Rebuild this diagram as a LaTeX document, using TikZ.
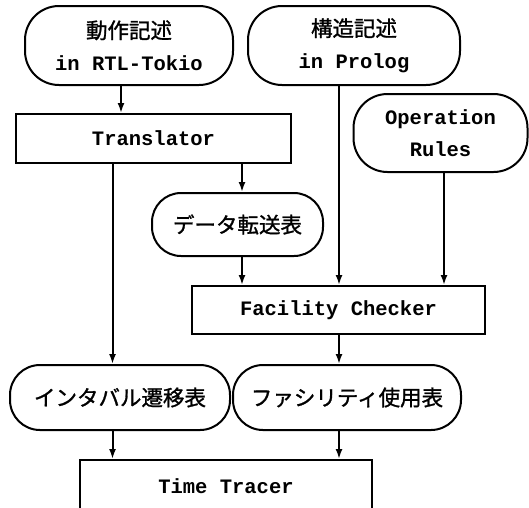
\documentclass[tikz,border=0pt]{standalone}
\usepackage{fontspec}
\newfontfamily\cjk[FakeBold=1.2]{Noto Sans CJK JP}
\setmonofont{Liberation Mono}
\usetikzlibrary{arrows.meta}
\tikzset{
  base/.style={draw, line width=2pt, inner sep=0pt, align=center,
    font=\fontsize{20.5}{32}\selectfont\ttfamily\bfseries},
  boxnode/.style={base, rectangle},
  pill/.style={base, rectangle, rounded corners=34pt},
  arr/.style={line width=2pt, -{Latex[length=10pt,width=7pt]}},
}
\newcommand{\cj}[1]{{\cjk\mdseries\fontsize{21.5}{32}\selectfont #1}}
\begin{document}
\begin{tikzpicture}[x=1pt,y=-1pt]
\useasboundingbox (0,0) rectangle (529,507);
\clip (0,0) rectangle (529,507);
% nodes
\node[pill, minimum width=208pt, minimum height=79pt] (n1) at (129,45.5) {\cj{動作記述}\\in RTL-Tokio};
\node[pill, minimum width=212pt, minimum height=79pt] (n2) at (354,45.5) {\cj{構造記述}\\in Prolog};
\node[pill, minimum width=174pt, minimum height=78pt] (op) at (440.5,133) {Operation\\Rules};
\node[boxnode, minimum width=275pt, minimum height=49pt] (tr) at (153.5,138.5) {Translator};
\node[pill, rounded corners=29pt, minimum width=171pt, minimum height=63pt] (dt) at (237.5,224.5) {\cj{データ転送表}};
\node[boxnode, minimum width=293pt, minimum height=48pt] (fc) at (338.5,310) {Facility Checker};
\node[pill, rounded corners=30pt, minimum width=220pt, minimum height=65pt] (iv) at (120,397.5) {\cj{インタバル遷移表}};
\node[pill, rounded corners=30pt, minimum width=228pt, minimum height=65pt] (fa) at (347,397.5) {\cj{ファシリティ使用表}};
\node[boxnode, minimum width=292pt, minimum height=52pt] (tt) at (226,486) {Time Tracer};
% columns
\coordinate (xa) at (121,0);
\coordinate (xb) at (112.5,0);
\coordinate (xc) at (242,0);
\coordinate (xd) at (339,0);
\coordinate (xe) at (444,0);
% connectors
\draw[arr] (n1.south -| xa) -- (tr.north -| xa);
\draw[arr] (tr.south -| xc) -- (dt.north -| xc);
\draw[arr] (dt.south -| xc) -- (fc.north -| xc);
\draw[arr] (n2.south -| xd) -- (fc.north -| xd);
\draw[arr] (op.south -| xe) -- (fc.north -| xe);
\draw[arr] (tr.south -| xb) -- (iv.north -| xb);
\draw[arr] (fc.south -| xd) -- (fa.north -| xd);
\draw[arr] (iv.south -| xb) -- (tt.north -| xb);
\draw[arr] (fa.south -| xd) -- (tt.north -| xd);
\end{tikzpicture}
\end{document}
